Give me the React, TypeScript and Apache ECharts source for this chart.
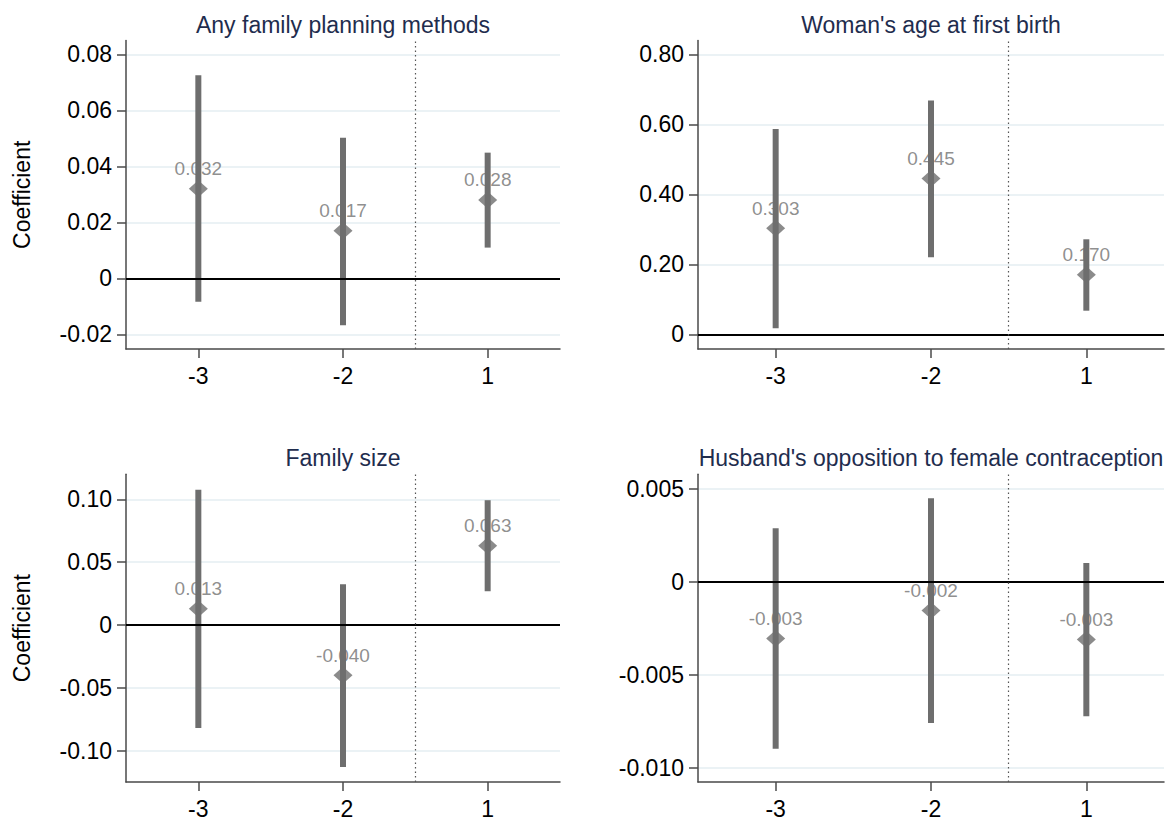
import React, { useEffect, useRef } from "react";
import * as echarts from "echarts";

// ---------- data ----------
const xCategories = ["-3", "-2", "1"];
const xPositions = [0, 1, 2];

const panelTitles = [
  "Any family planning methods",
  "Woman's age at first birth",
  "Family size",
  "Husband's opposition to female contraception",
];

// Panel 1: Any family planning methods
const fpCoef = [0.032, 0.017, 0.028];
const fpLow = [-0.0083, -0.0167, 0.011];
const fpHigh = [0.0725, 0.0502, 0.0449];
const fpTicks = [0.08, 0.06, 0.04, 0.02, 0, -0.02];
const fpTickLabels = ["0.08", "0.06", "0.04", "0.02", "0", "-0.02"];
const fpRange = [-0.0252, 0.0849];

// Panel 2: Woman's age at first birth
const ageCoef = [0.303, 0.445, 0.17];
const ageLow = [0.0171, 0.22, 0.0674];
const ageHigh = [0.5866, 0.668, 0.2714];
const ageTicks = [0.8, 0.6, 0.4, 0.2, 0];
const ageTickLabels = ["0.80", "0.60", "0.40", "0.20", "0"];
const ageRange = [-0.042, 0.839];

// Panel 3: Family size
const famCoef = [0.013, -0.04, 0.063];
const famLow = [-0.0818, -0.1129, 0.0269];
const famHigh = [0.1077, 0.0325, 0.0993];
const famTicks = [0.1, 0.05, 0, -0.05, -0.1];
const famTickLabels = ["0.10", "0.05", "0", "-0.05", "-0.10"];
const famRange = [-0.1248, 0.1199];

// Panel 4: Husband's opposition to female contraception
const husCoef = [-0.00305, -0.00154, -0.0031];
const husLow = [-0.00898, -0.00759, -0.00723];
const husHigh = [0.00289, 0.0045, 0.00102];
const husTicks = [0.005, 0, -0.005, -0.01];
const husTickLabels = ["0.005", "0", "-0.005", "-0.010"];
const husRange = [-0.010768, 0.005786];

// ---------- styling ----------
const FONT = '"Liberation Sans", Arial, Helvetica, sans-serif';
const BAR_COLOR = "#6e6e6e";
const LABEL_COLOR = "#727272";
const AXIS_COLOR = "#4a4a4a";
const GRID_COLOR = "#e4eef2";
const TITLE_COLOR = "#1f2d4e";

const grids = [
  { left: 126, top: 40.6, width: 434, height: 308.4 },
  { left: 698, top: 40.6, width: 466, height: 308.4 },
  { left: 126, top: 474.3, width: 434, height: 309 },
  { left: 698, top: 474.3, width: 466, height: 309 },
];

const panels = [
  { coef: fpCoef, low: fpLow, high: fpHigh, ticks: fpTicks, tickLabels: fpTickLabels, range: fpRange, yName: "Coefficient" },
  { coef: ageCoef, low: ageLow, high: ageHigh, ticks: ageTicks, tickLabels: ageTickLabels, range: ageRange, yName: "" },
  { coef: famCoef, low: famLow, high: famHigh, ticks: famTicks, tickLabels: famTickLabels, range: famRange, yName: "Coefficient" },
  { coef: husCoef, low: husLow, high: husHigh, ticks: husTicks, tickLabels: husTickLabels, range: husRange, yName: "" },
];

function buildOption() {
  const xAxis: any[] = [];
  const yAxis: any[] = [];
  const series: any[] = [];
  const graphic: any[] = [];

  panels.forEach((p, i) => {
    const g = grids[i];
    xAxis.push({
      type: "value",
      gridIndex: i,
      min: -0.5,
      max: 2.5,
      axisLine: { show: true, onZero: false, lineStyle: { color: AXIS_COLOR, width: 1.5 } },
      axisTick: { show: true, length: 9, customValues: xPositions, lineStyle: { color: AXIS_COLOR, width: 1.5 } },
      axisLabel: {
        show: true,
        customValues: xPositions,
        formatter: (v: number) => xCategories[Math.round(v)] ?? "",
        color: "#000",
        fontSize: 23,
        fontFamily: FONT,
        margin: 15,
      },
      splitLine: { show: false },
    });
    yAxis.push({
      type: "value",
      gridIndex: i,
      min: p.range[0],
      max: p.range[1],
      name: p.yName,
      nameLocation: "middle",
      nameGap: 93,
      nameTextStyle: { color: "#000", fontSize: 23, fontFamily: FONT },
      axisLine: { show: true, onZero: false, lineStyle: { color: AXIS_COLOR, width: 1.5 } },
      axisTick: { show: true, length: 9, customValues: p.ticks, lineStyle: { color: AXIS_COLOR, width: 1.5 } },
      axisLabel: {
        show: true,
        customValues: p.ticks,
        formatter: (v: number) => {
          const idx = p.ticks.findIndex((t) => Math.abs(t - v) < 1e-9);
          return idx >= 0 ? p.tickLabels[idx] : "";
        },
        color: "#000",
        fontSize: 23,
        fontFamily: FONT,
        margin: 14,
      },
      splitLine: { show: true, lineStyle: { color: GRID_COLOR, width: 1.5 } },
    });

    // coefficient markers + labels
    series.push({
      type: "scatter",
      xAxisIndex: i,
      yAxisIndex: i,
      z: 2,
      symbol: "diamond",
      symbolSize: [19, 17],
      itemStyle: { color: BAR_COLOR },
      label: {
        show: true,
        position: "top",
        distance: 2,
        color: LABEL_COLOR,
        fontSize: 19,
        fontFamily: FONT,
        formatter: (prm: any) => Number(prm.value[1]).toFixed(3),
      },
      data: xPositions.map((x, k) => [x, p.coef[k]]),
    });

    // confidence interval bars
    series.push({
      type: "custom",
      xAxisIndex: i,
      yAxisIndex: i,
      z: 3,
      encode: { x: 0, y: [1, 2] },
      renderItem: (_params: any, api: any) => {
        const a = api.coord([api.value(0), api.value(1)]);
        const b = api.coord([api.value(0), api.value(2)]);
        return {
          type: "line",
          shape: { x1: a[0], y1: a[1], x2: b[0], y2: b[1] },
          style: { stroke: BAR_COLOR, lineWidth: 6, lineCap: "butt" },
        };
      },
      data: xPositions.map((x, k) => [x, p.low[k], p.high[k]]),
    });

    // zero line and the dotted separator
    series.push({
      type: "line",
      xAxisIndex: i,
      yAxisIndex: i,
      z: 4,
      data: [],
      markLine: {
        silent: true,
        symbol: ["none", "none"],
        label: { show: false },
        animation: false,
        data: [
          { yAxis: 0, lineStyle: { color: "#000", width: 2, type: "solid" } },
          { xAxis: 1.5, lineStyle: { color: "#555", width: 1.2, type: [1.5, 3] } },
        ],
      },
    });

    graphic.push({
      type: "text",
      x: g.left + g.width / 2,
      y: g.top - 16,
      style: {
        text: panelTitles[i],
        fill: TITLE_COLOR,
        fontSize: 23,
        fontFamily: FONT,
        align: "center",
        verticalAlign: "middle",
      },
    });
  });

  return {
    animation: false,
    backgroundColor: "#ffffff",
    grid: grids.map((g) => ({ ...g, containLabel: false })),
    xAxis,
    yAxis,
    series,
    graphic,
  };
}

export default function App() {
  const ref = useRef<HTMLDivElement>(null);
  useEffect(() => {
    if (!ref.current) return;
    const chart = echarts.init(ref.current, undefined, { renderer: "svg" });
    chart.setOption(buildOption() as any);
    return () => chart.dispose();
  }, []);
  return (
    <div
      ref={ref}
      style={{ position: "absolute", left: 0, top: 0, width: 1171, height: 820, background: "#fff" }}
    />
  );
}
